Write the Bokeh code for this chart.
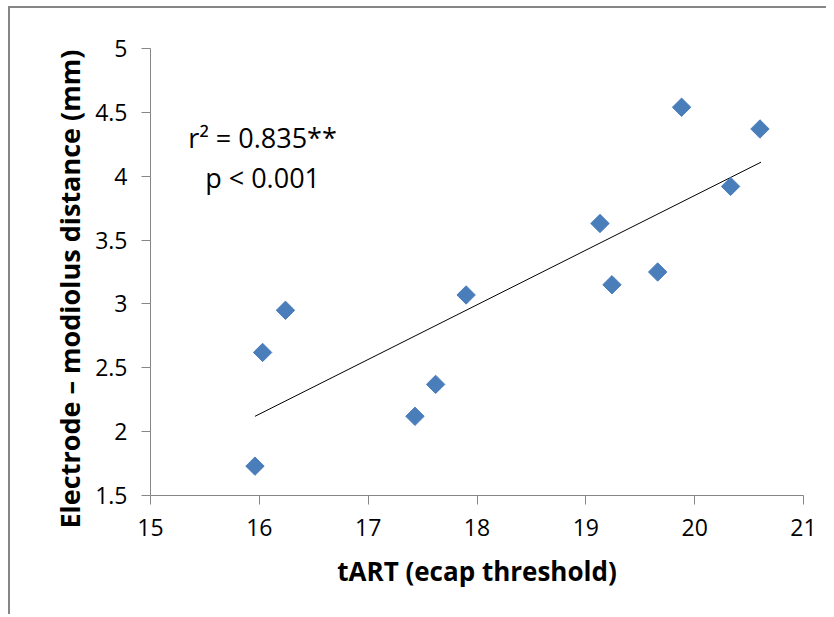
import numpy as np
from bokeh.plotting import figure
from bokeh.layouts import row, Spacer
from bokeh.models import Range1d, FixedTicker, Label, Title
from bokeh.embed import file_html
from bokeh.resources import INLINE

# --- data ---
tart = [15.96, 16.03, 16.24, 17.43, 17.62, 17.90, 19.13, 19.24, 19.66, 19.88, 20.33, 20.60]
distance = [1.73, 2.62, 2.95, 2.12, 2.37, 3.07, 3.63, 3.15, 3.25, 4.54, 3.92, 4.37]
trend_x = [15.96, 20.61]
trend_y = [2.12, 4.11]
x_ticks = [15, 16, 17, 18, 19, 20, 21]
x_tick_labels = ["15", "16", "17", "18", "19", "20", "21"]
y_ticks = [1.5, 2, 2.5, 3, 3.5, 4, 4.5, 5]
y_tick_labels = ["1.5", "2", "2.5", "3", "3.5", "4", "4.5", "5"]
x_title = "tART (ecap threshold)"
y_title = "Electrode \u2013 modiolus distance (mm)"
stat_lines = ["r\u00b2 = 0.835**", "p < 0.001"]

FONT = "Open Sans"
AXIS_GRAY = "#868686"
H = 606
GAP = 13  # blank strip between the chart border and the figure canvas

p = figure(width=816 - GAP, height=H,
           x_range=Range1d(15, 21), y_range=Range1d(1.5, 5),
           output_backend="svg", toolbar_location=None,
           min_border_left=127, min_border_right=23,
           min_border_top=40, min_border_bottom=119)
p.outline_line_color = None
p.xgrid.grid_line_color = None
p.ygrid.grid_line_color = None
p.background_fill_color = "white"
p.border_fill_color = "white"

for ax in (p.xaxis[0], p.yaxis[0]):
    ax.axis_line_color = AXIS_GRAY
    ax.axis_line_width = 1
    ax.major_tick_line_color = AXIS_GRAY
    ax.major_tick_in = 0
    ax.major_tick_out = 9
    ax.minor_tick_line_color = None
    ax.major_label_text_font = FONT
    ax.major_label_text_font_size = "23px"
    ax.major_label_text_color = "black"

p.xaxis[0].ticker = FixedTicker(ticks=x_ticks)
p.xaxis[0].major_label_overrides = {t: l for t, l in zip(x_ticks, x_tick_labels)}
p.xaxis[0].major_label_standoff = 14
p.yaxis[0].ticker = FixedTicker(ticks=y_ticks)
p.yaxis[0].major_label_overrides = {t: l for t, l in zip(y_ticks, y_tick_labels)}
p.yaxis[0].major_label_standoff = 14

p.xaxis[0].axis_label = x_title
p.xaxis[0].axis_label_text_font = FONT
p.xaxis[0].axis_label_text_font_size = "26px"
p.xaxis[0].axis_label_text_font_style = "bold"
p.xaxis[0].axis_label_text_color = "black"
p.xaxis[0].axis_label_standoff = 14

# y-axis title as a left-side title, starting a bit below the frame bottom (as in the reference)
p.add_layout(Title(text=y_title, align="left", offset=-33, standoff=10,
                   vertical_align="bottom",
                   text_font=FONT, text_font_size="27px", text_font_style="bold",
                   text_color="black"), "left")

# trend line
p.line(trend_x, trend_y, line_color="black", line_width=1)

# data points (diamonds)
p.scatter(tart, distance, marker="square", angle=np.pi / 4, size=13,
          fill_color="#4A7EBB", line_color="#4A7EBB")

# statistics annotation
p.add_layout(Label(x=16.03, y=4.30, text=stat_lines[0], text_font=FONT,
                   text_font_size="27px", text_align="center",
                   text_baseline="alphabetic", text_color="black"))
p.add_layout(Label(x=16.03, y=3.99, text=stat_lines[1], text_font=FONT,
                   text_font_size="27px", text_align="center",
                   text_baseline="alphabetic", text_color="black"))

layout = row(Spacer(width=GAP, height=H), p)
layout.styles = {"border-left": "2px solid #868686", "border-top": "2px solid #868686",
                 "margin-left": "8px", "margin-top": "6px"}

open("out.html", "w").write(file_html(layout, INLINE))
